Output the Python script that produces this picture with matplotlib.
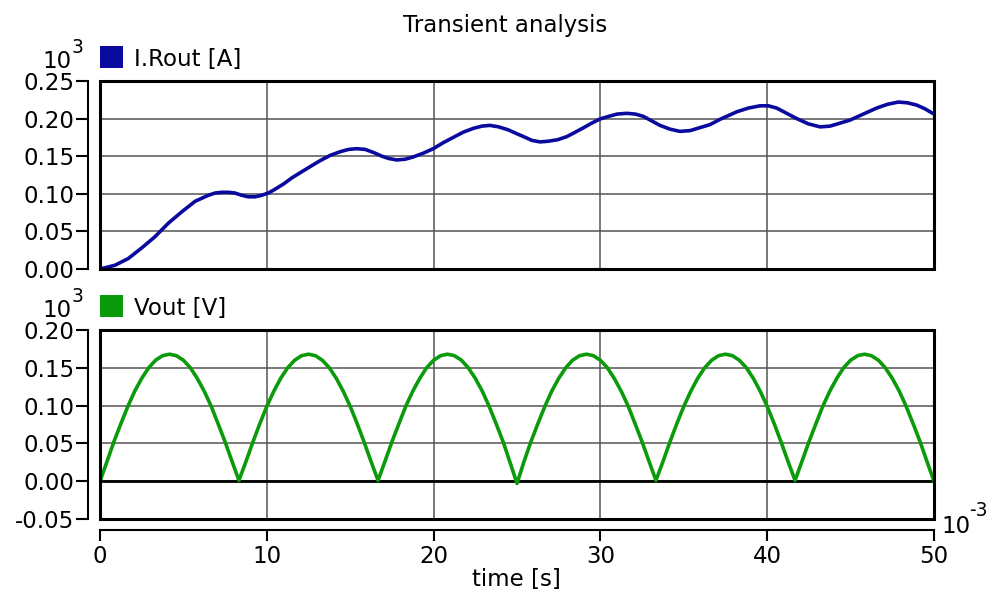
import numpy as np
import matplotlib
matplotlib.use("Agg")
import matplotlib.pyplot as plt
from matplotlib.patches import Rectangle

plt.rcParams['font.family'] = ['DejaVu Sans']
plt.rcParams['mathtext.fontset'] = 'dejavusans'

# ---- data (time in ms, values in units of 10^3) ----
t_i = [0.00, 0.90, 1.70, 2.50, 3.30, 4.10, 4.90, 5.70, 6.49, 6.90, 7.30, 7.70,
       8.09, 8.50, 8.89, 9.30, 9.69, 10.09, 10.49, 11.00, 11.49, 12.00, 12.59,
       13.19, 13.79, 14.40, 14.90, 15.39, 15.90, 16.39, 16.90, 17.30, 17.79,
       18.30, 18.78, 19.38, 19.98, 20.58, 21.18, 21.78, 22.38, 22.90, 23.38,
       23.90, 24.48, 24.98, 25.50, 25.90, 26.38, 26.90, 27.45, 27.98, 28.50,
       29.00, 29.48, 29.98, 30.50, 31.00, 31.58, 32.10, 32.57, 33.07, 33.57,
       34.17, 34.77, 35.37, 35.97, 36.57, 37.17, 37.67, 38.17, 38.87, 39.57,
       40.07, 40.57, 41.17, 41.77, 42.47, 43.17, 43.77, 44.37, 44.96, 45.76,
       46.56, 47.21, 47.86, 48.41, 48.96, 49.46, 50.00]
i_rout = [0.000, 0.005, 0.014, 0.028, 0.043, 0.061, 0.076, 0.090, 0.098, 0.101,
          0.102, 0.102, 0.101, 0.098, 0.096, 0.096, 0.098, 0.101, 0.106, 0.113,
          0.121, 0.128, 0.136, 0.144, 0.151, 0.156, 0.159, 0.160, 0.159, 0.155,
          0.150, 0.147, 0.145, 0.146, 0.149, 0.154, 0.160, 0.168, 0.175, 0.182,
          0.187, 0.190, 0.191, 0.189, 0.185, 0.180, 0.175, 0.171, 0.169, 0.170,
          0.172, 0.176, 0.182, 0.188, 0.194, 0.1995, 0.203, 0.206, 0.207, 0.206,
          0.203, 0.197, 0.191, 0.186, 0.183, 0.184, 0.188, 0.192, 0.199, 0.204,
          0.209, 0.214, 0.217, 0.217, 0.214, 0.207, 0.200, 0.193, 0.189, 0.190,
          0.194, 0.198, 0.206, 0.214, 0.219, 0.222, 0.221, 0.218, 0.213, 0.206]

t_v = [0.00, 0.42, 0.83, 1.25, 1.67, 2.08, 2.50, 2.92, 3.33, 3.75,
       4.17, 4.58, 5.00, 5.42, 5.83, 6.25, 6.67, 7.08, 7.50, 7.92,
       8.33, 8.75, 9.17, 9.58, 10.00, 10.42, 10.83, 11.25, 11.67, 12.08,
       12.50, 12.92, 13.33, 13.75, 14.17, 14.58, 15.00, 15.42, 15.83, 16.25,
       16.67, 17.08, 17.50, 17.92, 18.33, 18.75, 19.17, 19.58, 20.00, 20.42,
       20.83, 21.25, 21.67, 22.08, 22.50, 22.92, 23.33, 23.75, 24.17, 24.58,
       25.00, 25.42, 25.83, 26.25, 26.67, 27.08, 27.50, 27.92, 28.33, 28.75,
       29.17, 29.58, 30.00, 30.42, 30.83, 31.25, 31.67, 32.08, 32.50, 32.92,
       33.33, 33.75, 34.17, 34.58, 35.00, 35.42, 35.83, 36.25, 36.67, 37.08,
       37.50, 37.92, 38.33, 38.75, 39.17, 39.58, 40.00, 40.42, 40.83, 41.25,
       41.67, 42.08, 42.50, 42.92, 43.33, 43.75, 44.17, 44.58, 45.00, 45.42,
       45.83, 46.25, 46.67, 47.08, 47.50, 47.92, 48.33, 48.75, 49.17, 49.58,
       50.00]
v_out = [0.000, 0.026, 0.052, 0.076, 0.099, 0.119, 0.136, 0.150, 0.160, 0.166,
         0.168, 0.166, 0.160, 0.150, 0.136, 0.119, 0.099, 0.076, 0.052, 0.026,
         0.001, 0.026, 0.052, 0.076, 0.099, 0.119, 0.136, 0.150, 0.160, 0.166,
         0.168, 0.166, 0.160, 0.150, 0.136, 0.119, 0.099, 0.076, 0.052, 0.026,
         0.001, 0.026, 0.052, 0.076, 0.099, 0.119, 0.136, 0.150, 0.160, 0.166,
         0.168, 0.166, 0.160, 0.150, 0.136, 0.119, 0.099, 0.076, 0.052, 0.025,
         -0.003, 0.026, 0.052, 0.076, 0.099, 0.119, 0.136, 0.150, 0.160, 0.166,
         0.168, 0.166, 0.160, 0.150, 0.136, 0.119, 0.099, 0.076, 0.052, 0.026,
         0.001, 0.026, 0.052, 0.076, 0.099, 0.119, 0.136, 0.150, 0.160, 0.166,
         0.168, 0.166, 0.160, 0.150, 0.136, 0.119, 0.099, 0.076, 0.052, 0.026,
         0.001, 0.026, 0.052, 0.076, 0.099, 0.119, 0.136, 0.150, 0.160, 0.166,
         0.168, 0.166, 0.160, 0.150, 0.136, 0.119, 0.099, 0.076, 0.052, 0.026,
         0.000]

x_ticks = [0, 10, 20, 30, 40, 50]
i_ticks = [0.00, 0.05, 0.10, 0.15, 0.20, 0.25]
v_ticks = [-0.05, 0.00, 0.05, 0.10, 0.15, 0.20]

blue = '#0a0a9e'
green = '#0a9a0a'

W, H = 1006, 596
fig = plt.figure(figsize=(W / 100, H / 100), dpi=100)

def px(x0, y0, x1, y1):
    return [x0 / W, 1 - y1 / H, (x1 - x0) / W, (y1 - y0) / H]

def fy(y):
    return 1 - y / H

ax1 = fig.add_axes(px(100, 81, 934, 269))
ax2 = fig.add_axes(px(100, 330, 934, 519))

FS = 16.5
SUP = 13.5

def style(ax, yticks, show_x):
    ax.set_xlim(0, 50)
    ax.set_ylim(yticks[0], yticks[-1])
    ax.set_xticks(x_ticks)
    ax.set_yticks(yticks)
    ax.set_yticklabels([f"{v:.2f}" for v in yticks])
    ax.grid(True, color='#555555', linewidth=1.1)
    ax.set_axisbelow(True)
    for s in ('top', 'right'):
        ax.spines[s].set_visible(False)
    ax.spines['left'].set_position(('outward', 8.6))
    ax.spines['left'].set_linewidth(1.5)
    ax.tick_params(axis='y', direction='out', length=9, width=1.5,
                   labelsize=FS, pad=1)
    if show_x:
        ax.spines['bottom'].set_position(('outward', 8))
        ax.spines['bottom'].set_linewidth(1.5)
        ax.tick_params(axis='x', direction='out', length=8, width=1.5,
                       labelsize=FS, pad=3)
    else:
        ax.spines['bottom'].set_visible(False)
        ax.tick_params(axis='x', length=0, labelbottom=False)
    ax.add_patch(Rectangle((0, 0), 1, 1, transform=ax.transAxes, fill=False,
                           edgecolor='black', linewidth=2.2, clip_on=False,
                           zorder=5))

style(ax1, i_ticks, False)
style(ax2, v_ticks, True)

ax1.plot(t_i, i_rout, color=blue, linewidth=2.6, zorder=3)
ax2.axhline(0, color='black', linewidth=2, zorder=2)
ax2.plot(t_v, v_out, color=green, linewidth=2.6, zorder=3)

# title and labels
fig.text(505 / W, fy(32), 'Transient analysis', ha='center', va='baseline',
         fontsize=FS)
fig.text(516.5 / W, fy(586), 'time [s]', ha='center', va='baseline',
         fontsize=FS)

for (ytop, color, label) in [(46, blue, 'I.Rout [A]'), (295, green, 'Vout [V]')]:
    fig.add_artist(Rectangle((100 / W, fy(ytop + 22)), 23 / W, 22 / H,
                             transform=fig.transFigure, facecolor=color,
                             edgecolor='none'))
    fig.text(134 / W, fy(ytop + 20), label, ha='left', va='baseline',
             fontsize=FS)
    fig.text(72 / W, fy(ytop + 22), '10', ha='right', va='baseline',
             fontsize=FS)
    fig.text(72 / W, fy(ytop + 7), '3', ha='left', va='baseline',
             fontsize=SUP)

fig.text(941 / W, fy(533), '10', ha='left', va='baseline', fontsize=FS)
fig.text(969 / W, fy(516), '-3', ha='left', va='baseline', fontsize=SUP)

fig.savefig('out.png', dpi=100)
